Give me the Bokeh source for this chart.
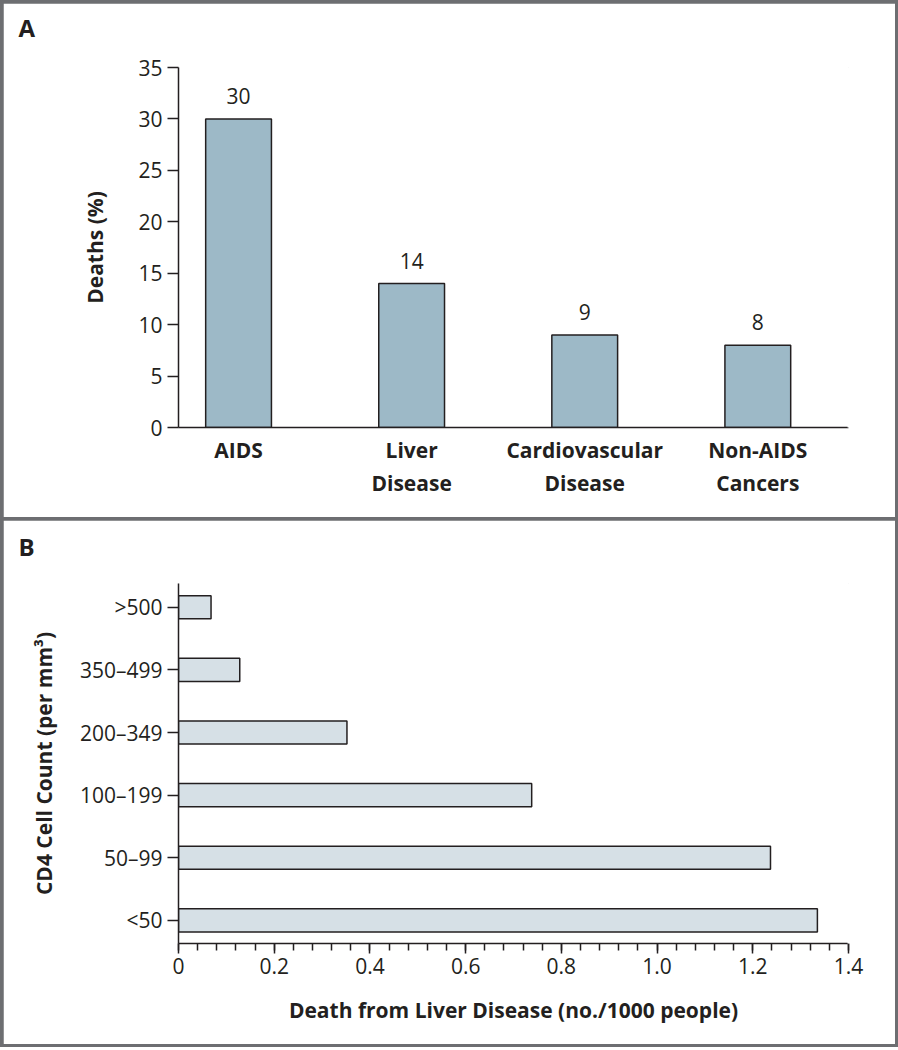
from bokeh.plotting import figure
from bokeh.layouts import column
from bokeh.models import FixedTicker, Range1d, CustomJSTickFormatter, Title, LinearAxis
from bokeh.core.properties import value
from bokeh.embed import file_html
from bokeh.resources import INLINE

# ---- data ----
causes = ["AIDS", "Liver\nDisease", "Cardiovascular\nDisease", "Non-AIDS\nCancers"]
deaths_pct = [30, 14, 9, 8]

cd4_groups = ["<50", "50\u201399", "100\u2013199", "200\u2013349", "350\u2013499", ">500"]
liver_deaths = [1.335, 1.237, 0.738, 0.352, 0.128, 0.068]

FONT = "Open Sans"
INK = "#231f20"
FRAME = "#6d6e71"
W = 892
FS = "21px"

def style_axis(ax):
    ax.axis_line_color = INK
    ax.axis_line_width = 1.5
    ax.major_tick_line_color = INK
    ax.major_tick_line_width = 1.5
    ax.minor_tick_line_color = INK
    ax.minor_tick_line_width = 1.5
    ax.major_label_text_font = FONT
    ax.major_label_text_font_size = FS
    ax.major_label_text_color = INK
    ax.axis_label_text_font = FONT
    ax.axis_label_text_font_size = FS
    ax.axis_label_text_font_style = "bold"
    ax.axis_label_text_color = INK

def blank_axis():
    return LinearAxis(ticker=FixedTicker(ticks=[]), axis_line_color="white",
                      axis_line_width=2, major_tick_out=0, major_tick_in=0,
                      minor_tick_out=0, minor_tick_in=0, major_label_standoff=0,
                      major_label_text_font_size="0px")

def style_fig(p, letter, gap, pad):
    p.outline_line_color = None
    p.background_fill_color = "white"
    p.border_fill_color = "white"
    p.grid.visible = False
    # white edges hide the faint frame edge at top and right
    p.add_layout(blank_axis(), "above")
    p.add_layout(blank_axis(), "right")
    # spacer between frame and panel letter
    p.add_layout(Title(text=" ", text_font_size="1px", standoff=gap), "above")
    p.add_layout(Title(text=letter, text_font=FONT, text_font_size="24px",
                       text_font_style="bold", text_color=INK, align="left",
                       vertical_align="top", offset=-160, standoff=pad), "above")

# ---- Panel A ----
pa = figure(width=W, height=514, output_backend="svg", toolbar_location=None,
            title=None,
            x_range=Range1d(-0.347, 3.524), y_range=Range1d(0, 35),
            min_border_left=175, min_border_right=26, min_border_top=64,
            min_border_bottom=90, margin=(3, 3, 3, 3))
ax = pa.below[0]
ay = pa.left[0]
style_fig(pa, "A", 12, 14)
xs = list(range(len(causes)))
pa.vbar(x=xs, top=deaths_pct, width=0.38, bottom=0, fill_color="#9db9c7",
        line_color=INK, line_width=1.5)
pa.text(x=xs, y=deaths_pct, text=[str(v) for v in deaths_pct], text_align="center",
        text_baseline="alphabetic", y_offset=-23, text_font=value(FONT),
        text_font_size=FS, text_color=INK)
style_axis(ax)
ax.ticker = FixedTicker(ticks=xs)
ax.major_label_overrides = {i: c for i, c in enumerate(causes)}
ax.major_label_text_font_style = "bold"
ax.major_tick_out = 0
ax.major_tick_in = 0
ax.minor_tick_line_color = None
ax.major_label_standoff = 8
style_axis(ay)
ay.ticker = FixedTicker(ticks=[0, 5, 10, 15, 20, 25, 30, 35])
ay.minor_tick_line_color = None
ay.major_tick_out = 11
ay.major_tick_in = 0
ay.major_label_standoff = 5
ay.axis_label = "Deaths (%)"
ay.axis_label_standoff = 26

# ---- Panel B ----
pb = figure(width=W, height=524, output_backend="svg", toolbar_location=None,
            title=None,
            x_range=Range1d(0, 1.4), y_range=Range1d(-0.37, 5.38),
            min_border_left=175, min_border_right=47, min_border_top=63,
            min_border_bottom=101, margin=(0, 3, 3, 3))
bx = pb.below[0]
by = pb.left[0]
style_fig(pb, "B", 8, 16)
ys = list(range(len(cd4_groups)))
pb.hbar(y=ys, right=liver_deaths, left=0, height=0.37, fill_color="#d6e0e6",
        line_color=INK, line_width=1.5)
style_axis(bx)
bx.ticker = FixedTicker(ticks=[0, 0.2, 0.4, 0.6, 0.8, 1.0, 1.2, 1.4],
                        minor_ticks=[round(0.04 * k, 2) for k in range(36)])
bx.formatter = CustomJSTickFormatter(code="return tick == 0 ? '0' : tick.toFixed(1);")
bx.major_tick_out = 10
bx.major_tick_in = 0
bx.minor_tick_out = 7
bx.minor_tick_in = 0
bx.major_label_standoff = 4
bx.axis_label = "Death from Liver Disease (no./1000 people)"
bx.axis_label_standoff = 19
style_axis(by)
by.ticker = FixedTicker(ticks=ys)
by.major_label_overrides = {i: g for i, g in enumerate(cd4_groups)}
by.minor_tick_line_color = None
by.major_tick_out = 11
by.major_tick_in = 0
by.major_label_standoff = 5
by.axis_label = "CD4 Cell Count (per mm\u00b3)"
by.axis_label_standoff = 19

layout = column(pa, pb, spacing=0, styles={"background-color": FRAME})
open("out.html", "w").write(file_html(layout, INLINE))
